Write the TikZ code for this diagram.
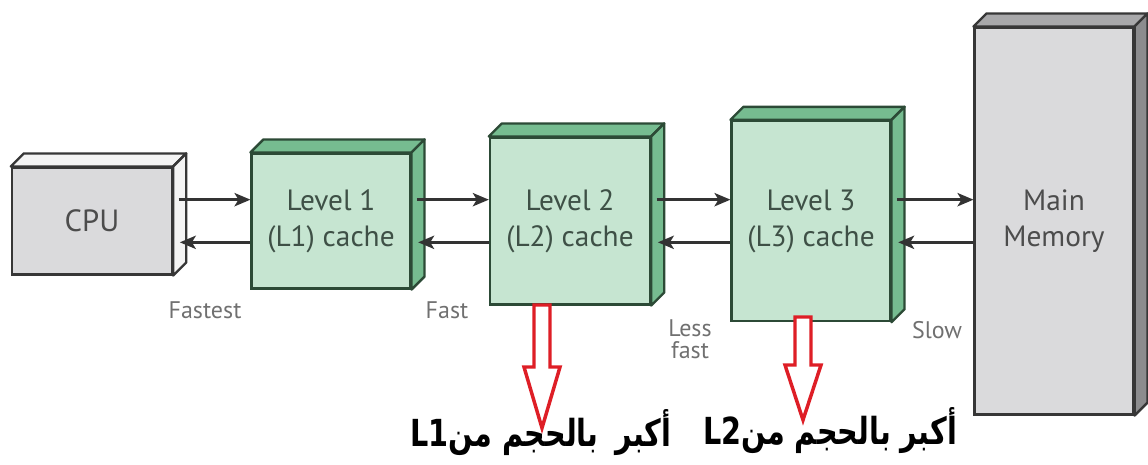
\documentclass[tikz,border=0pt]{standalone}
\usepackage{fontspec}
\setmainfont{PT Sans}
\newfontfamily\arabicfont[Script=Arabic]{DejaVu Sans}
\TeXXeTstate=1
\usepackage{tikz}
\usetikzlibrary{arrows.meta,calc}
\usepackage{xcolor}

\definecolor{gfront}{RGB}{198,229,209}
\definecolor{gface}{RGB}{118,188,144}
\definecolor{gline}{RGB}{44,74,54}
\definecolor{gtext}{RGB}{62,80,70}
\definecolor{cfront}{RGB}{218,218,220}
\definecolor{cface}{RGB}{244,244,244}
\definecolor{mface}{RGB}{168,168,170}
\definecolor{mside}{RGB}{140,140,142}
\definecolor{kline}{RGB}{55,55,55}
\definecolor{lbl}{RGB}{112,112,112}
\definecolor{redarrow}{RGB}{222,30,38}

\tikzset{
  cache/.style={draw=gline, fill=gfront, line width=1.8pt, inner sep=0pt,
    minimum width=119pt, align=center, text=gtext,
    font=\fontsize{22}{27}\selectfont},
  store/.style={draw=kline, fill=cfront, line width=1.8pt, inner sep=0pt,
    minimum width=119pt, align=center, text=black!70,
    font=\fontsize{22}{27}\selectfont},
  face/.style={line width=1.8pt, line join=round},
  link/.style={draw=black!80, line width=1.8pt,
    -{Stealth[length=12pt,width=10pt,inset=3pt]}},
  speed/.style={text=lbl, inner sep=0pt, align=center,
    font=\fontsize{18}{20}\selectfont},
  hollow/.style={draw=redarrow, fill=white, line width=2.6pt, line join=miter},
  arab/.style={anchor=base, inner sep=0pt,
    font=\arabicfont\bfseries\fontsize{21.5}{26}\selectfont}
}

\begin{document}
\begin{tikzpicture}[x=0.75pt,y=0.75pt,yscale=-1,xscale=1]
\useasboundingbox (0,0) rectangle (1148,464);

% Boxes
\node[store, minimum width=120pt, minimum height=80pt,
  font=\fontsize{23}{27}\selectfont] (cpu) at (92,221) {CPU};
\node[cache, minimum height=101pt] (l1) at (331,221) {Level 1\\(L1) cache};
\node[cache, minimum width=120pt, minimum height=125pt] (l2) at (570,221) {Level 2\\(L2) cache};
\node[cache, minimum height=150pt] (l3) at (811,221) {Level 3\\(L3) cache};
\node[store, minimum height=290pt] (mem) at (1054,221) {Main\\Memory};

% Top and side faces
\foreach \b/\t/\s/\c in {cpu/cface/cface/kline, l1/gface/gface/gline, l2/gface/gface/gline,
    l3/gface/gface/gline, mem/mface/mside/kline}{
  \draw[face, draw=\c, fill=\t] (\b.north west) -- ++(13,-13)
    -- ($(\b.north east)+(13,-13)$) -- (\b.north east) -- cycle;
  \draw[face, draw=\c, fill=\s] (\b.north east) -- ++(13,-13)
    -- ($(\b.south east)+(13,-13)$) -- (\b.south east) -- cycle;
}

% Connectors (yshift is flipped by yscale=-1)
\foreach \a/\b in {cpu/l1, l1/l2, l2/l3, l3/mem}{
  \draw[link] ([xshift=4pt,yshift=-16pt]\a.east) -- ([yshift=-16pt]\b.west);
  \draw[link] ([yshift=16pt]\b.west) -- ([xshift=5pt,yshift=16pt]\a.east);
}

% Text Node
\node[speed] (fastest) at (205,310) {Fastest};
% Text Node
\node[speed] (fast) at (447,310) {Fast};
% Text Node
\node[speed, font=\fontsize{18}{16.5}\selectfont] (lessfast) at (690,339) {Less\\fast};
% Text Node
\node[speed] (slow) at (937,330) {Slow};

% Red hollow arrows
\coordinate (dn1) at (542,305);
\coordinate (dn2) at (803,317);
\draw[hollow] (dn1) ++(-8,0) -- ++(0,62) -- ++(-10,0) -- ++(18,61)
  -- ++(18,-61) -- ++(-10,0) -- ++(0,-62) -- cycle;
\draw[hollow] (dn2) ++(-8,0) -- ++(0,48) -- ++(-10,0) -- ++(18,55)
  -- ++(18,-55) -- ++(-10,0) -- ++(0,-48) -- cycle;

% Text Node
\node[arab] (bigger1) at (541,446) {\scalebox{1}[1.3]{\beginR أكبر\hspace{0.6em}بالحجم من\beginL L1\endL\endR}};
% Text Node
\node[arab] (bigger2) at (830,444) {\scalebox{1}[1.3]{\beginR أكبر بالحجم من\beginL L2\endL\endR}};

\end{tikzpicture}
\end{document}
